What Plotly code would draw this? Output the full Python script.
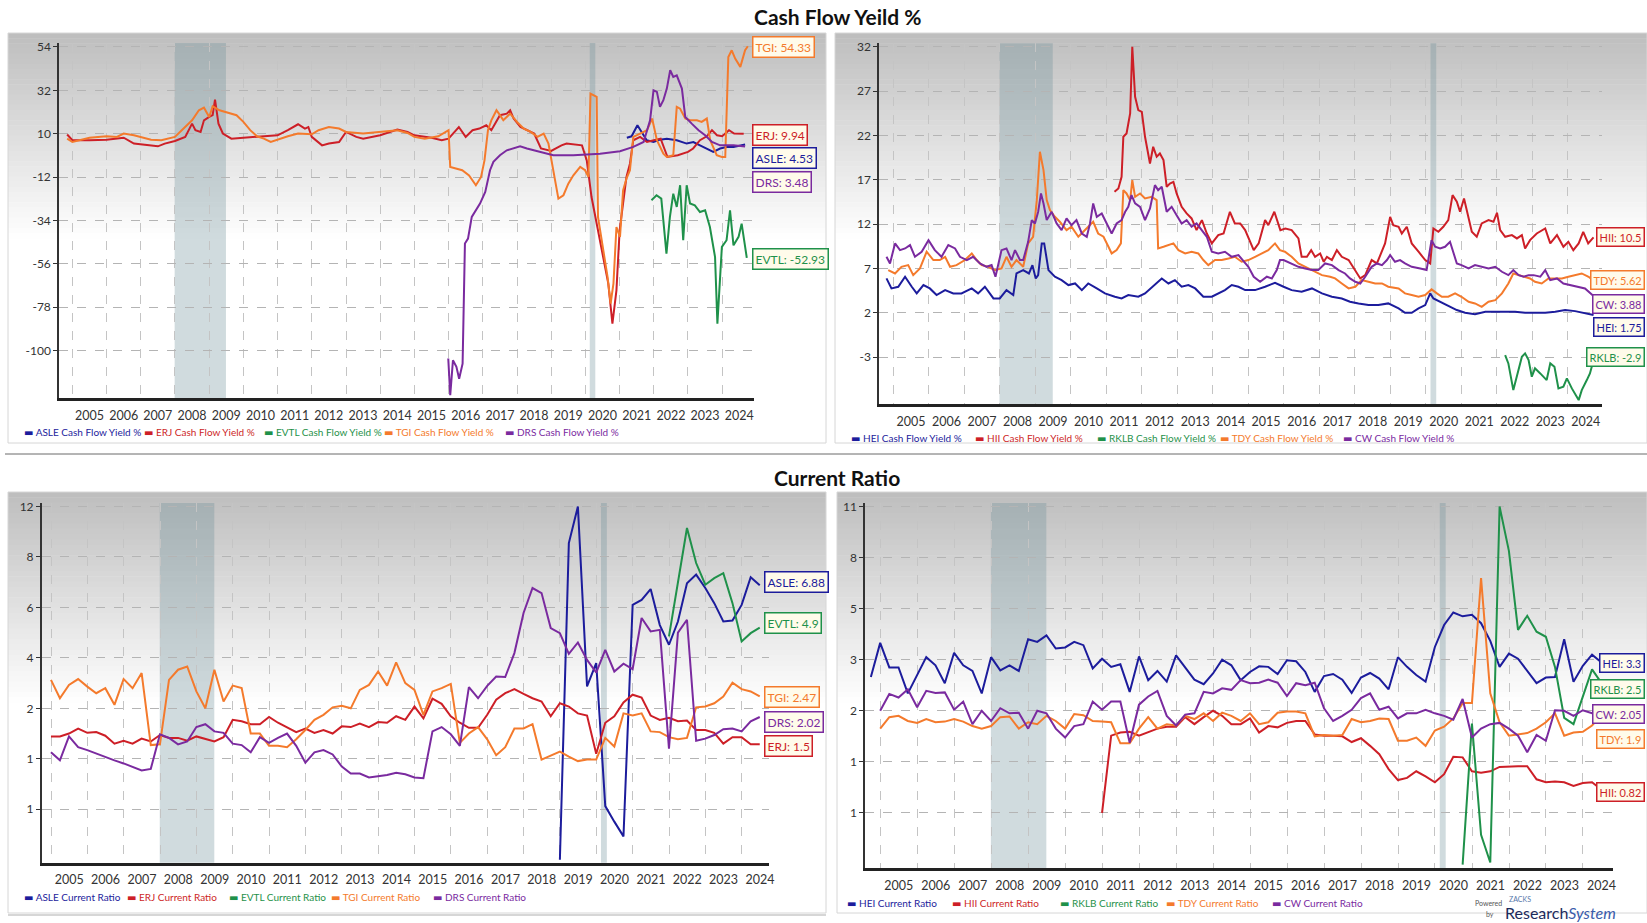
import numpy as np
import pandas as pd
import plotly.graph_objects as go

W, H = 1647, 923
FONT = "Lato, DejaVu Sans, sans-serif"
BLUE, RED, GREEN, ORANGE, PURPLE = "#1c1c9c", "#cd1f27", "#1f914a", "#f47a2c", "#7a2a9f"

# ---------------- Cash Flow Yield % : ASLE / ERJ / EVTL / TGI / DRS ----------------
cfy_erj_yr = [2004.85, 2005.0, 2005.5, 2006.0, 2006.5, 2006.8, 2007.5, 2007.7, 2008.0, 2008.3,
              2008.5, 2008.6, 2008.75, 2008.85, 2009.0, 2009.1, 2009.17, 2009.27, 2009.4, 2009.65,
              2010.0, 2010.5, 2011.0, 2011.3, 2011.6, 2011.8, 2011.9, 2012.0, 2012.3, 2012.5,
              2012.8, 2013.0, 2013.3, 2013.5, 2014.0, 2014.5, 2014.8, 2015.0, 2015.5, 2015.8,
              2016.0, 2016.3, 2016.5, 2016.7, 2016.9, 2017.1, 2017.25, 2017.5, 2017.7, 2017.8,
              2017.9, 2018.1, 2018.5, 2018.7, 2019.0, 2019.3, 2019.45, 2019.9, 2020.04, 2020.18,
              2020.33, 2020.52, 2020.67, 2020.79, 2020.91, 2021.0, 2021.1, 2021.2, 2021.3, 2021.4,
              2021.6, 2021.8, 2022.0, 2022.2, 2022.4, 2022.7, 2023.0, 2023.15, 2023.35, 2023.55,
              2023.7, 2023.85, 2024.0, 2024.2, 2024.35, 2024.63]
cfy_erj = [9.6, 6.7, 6.7, 7.0, 8.0, 5.0, 3.6, 5.0, 6.3, 8.4,
           15.1, 11.8, 10.9, 16.8, 18.5, 19.4, 27.3, 15.1, 10.1, 7.5,
           8.0, 8.7, 9.2, 11.8, 14.8, 12.6, 13.4, 8.4, 4.1, 5.0,
           5.8, 10.9, 8.4, 7.5, 9.2, 12.1, 10.9, 9.2, 8.0, 6.7,
           7.5, 13.4, 8.4, 11.8, 12.6, 14.3, 11.8, 19.4, 20.2, 21.9,
           17.7, 13.4, 10.1, 2.5, 1.3, 4.1, 5.0, 4.1, -3.5, -22.1,
           -35.6, -52.5, -66.0, -86.3, -69.4, -39.0, -25.4, -11.9, -5.2, 6.7,
           8.4, 5.8, 6.7, 7.5, -1.8, -0.9, 0.8, 2.5, 6.7, 8.7,
           11.8, 9.2, 8.7, 11.8, 10.1, 9.94]

cfy_tgi_yr = [2004.85, 2005.0, 2005.5, 2006.0, 2006.3, 2006.5, 2006.8, 2007.0, 2007.3, 2007.6,
              2008.0, 2008.2, 2008.5, 2008.7, 2008.85, 2009.0, 2009.1, 2009.3, 2009.5, 2009.8,
              2010.0, 2010.2, 2010.4, 2010.6, 2010.8, 2011.0, 2011.3, 2011.6, 2012.0, 2012.2,
              2012.5, 2012.8, 2013.0, 2013.5, 2014.0, 2014.5, 2014.8, 2015.0, 2015.3, 2015.7,
              2016.0, 2016.05, 2016.4, 2016.6, 2016.8, 2016.95, 2017.05, 2017.15, 2017.25, 2017.4,
              2017.5, 2017.6, 2017.8, 2018.0, 2018.2, 2018.4, 2018.6, 2018.78, 2018.92, 2019.06,
              2019.21, 2019.36, 2019.5, 2019.65, 2019.85, 2019.99, 2020.09, 2020.15, 2020.33, 2020.37,
              2020.56, 2020.65, 2020.74, 2020.82, 2020.91, 2021.01, 2021.1, 2021.2, 2021.3, 2021.4,
              2021.6, 2021.8, 2021.95, 2022.09, 2022.28, 2022.38, 2022.57, 2022.67, 2022.77, 2022.92,
              2023.06, 2023.26, 2023.4, 2023.55, 2023.65, 2023.84, 2023.99, 2024.09, 2024.18, 2024.28,
              2024.38, 2024.53, 2024.67, 2024.75]
cfy_tgi = [7.5, 5.8, 8.0, 8.7, 8.4, 10.1, 9.2, 8.4, 7.0, 6.7,
           8.4, 11.8, 16.8, 21.9, 23.2, 18.5, 23.9, 21.9, 21.0, 19.4,
           16.0, 11.8, 8.7, 7.5, 5.8, 7.0, 8.7, 10.1, 9.7, 11.8,
           13.4, 12.6, 10.9, 10.1, 10.9, 11.8, 10.4, 8.4, 7.5, 8.7,
           11.8, -6.8, -8.5, -11.1, -16.1, -11.9, -3.5, 11.8, 16.8, 21.9,
           19.4, 16.8, 20.2, 16.0, 12.6, 10.9, 8.4, 10.1, 5.0, -8.5,
           -22.9, -21.2, -15.3, -11.1, -6.8, -8.5, -11.9, 30.3, 28.7, -32.2,
           -52.5, -62.6, -76.1, -66.0, -37.3, -42.3, -18.7, -12.8, -8.5, 8.4,
           10.1, 11.8, 17.7, 6.7, -0.1, -1.8, -0.9, 23.6, 22.7, 17.7,
           16.8, 16.8, 16.0, 17.7, 6.7, -0.9, -1.8, -1.8, 48.9, 52.3,
           48.1, 43.9, 52.3, 54.33]

cfy_drs_yr = [2015.99, 2016.05, 2016.13, 2016.23, 2016.31, 2016.41, 2016.48, 2016.57, 2016.68, 2016.77,
              2016.92, 2017.07, 2017.21, 2017.31, 2017.5, 2017.7, 2017.9, 2018.09, 2018.29, 2018.68,
              2019.06, 2019.65, 2020.43, 2021.01, 2021.4, 2021.7, 2021.89, 2021.99, 2022.09, 2022.18,
              2022.28, 2022.38, 2022.48, 2022.57, 2022.67, 2022.82, 2022.92, 2023.11, 2023.31, 2023.5,
              2023.7, 2023.94, 2024.33, 2024.67]
cfy_drs = [-104.0, -122.6, -104.9, -108.2, -114.2, -106.6, -45.7, -43.2, -32.2, -29.7,
           -25.4, -19.5, -8.5, -4.3, -0.9, 1.6, 2.5, 3.6, 2.5, 0.8,
           -0.9, -0.9, -0.1, 1.1, 3.3, 5.8, 16.8, 32.0, 31.2, 23.6,
           27.0, 32.9, 42.2, 38.8, 39.6, 32.9, 18.5, 15.1, 11.8, 9.2,
           5.8, 4.1, 4.1, 3.48]

cfy_asle_yr = [2021.21, 2021.35, 2021.52, 2021.65, 2021.79, 2021.99, 2022.18, 2022.38, 2022.67, 2022.96,
               2023.16, 2023.35, 2023.55, 2023.74, 2023.94, 2024.13, 2024.33, 2024.67]
cfy_asle = [8.0, 8.7, 14.3, 10.9, 6.7, 5.8, 7.0, 7.5, 6.7, 5.0,
            5.8, 4.1, 2.5, 0.8, 2.5, 3.3, 3.3, 4.53]

cfy_evtl_yr = [2021.93, 2022.08, 2022.22, 2022.37, 2022.47, 2022.57, 2022.67, 2022.77, 2022.86, 2022.96,
               2023.06, 2023.2, 2023.35, 2023.5, 2023.64, 2023.79, 2023.86, 2023.99, 2024.13, 2024.23,
               2024.33, 2024.48, 2024.57, 2024.72]
cfy_evtl = [-23.7, -21.2, -22.9, -50.8, -32.2, -20.4, -27.1, -16.1, -44.0, -16.1,
            -25.4, -26.3, -29.7, -28.8, -37.3, -52.5, -86.3, -47.4, -44.0, -28.8,
            -46.6, -42.3, -35.6, -52.93]

# ---------------- Cash Flow Yield % : HEI / HII / RKLB / TDY / CW ----------------
cfy_hei_yr = [2004.81, 2004.95, 2005.14, 2005.33, 2005.52, 2005.66, 2005.85, 2006.03, 2006.22, 2006.46,
              2006.69, 2006.92, 2007.21, 2007.39, 2007.58, 2007.82, 2008.0, 2008.19, 2008.38, 2008.47,
              2008.66, 2008.82, 2008.92, 2009.01, 2009.08, 2009.18, 2009.25, 2009.37, 2009.55, 2009.74,
              2009.93, 2010.12, 2010.31, 2010.49, 2010.73, 2010.96, 2011.24, 2011.43, 2011.62, 2011.9,
              2012.09, 2012.37, 2012.56, 2012.75, 2012.93, 2013.12, 2013.31, 2013.5, 2013.73, 2013.97,
              2014.15, 2014.34, 2014.53, 2014.72, 2014.91, 2015.19, 2015.47, 2015.75, 2015.99, 2016.22,
              2016.5, 2016.79, 2017.07, 2017.35, 2017.63, 2017.86, 2018.1, 2018.38, 2018.66, 2018.94,
              2019.23, 2019.41, 2019.6, 2019.79, 2019.98, 2020.12, 2020.21, 2020.4, 2020.63, 2020.87,
              2021.1, 2021.38, 2021.67, 2021.95, 2022.23, 2022.51, 2022.79, 2023.07, 2023.36, 2023.64,
              2023.92, 2024.2, 2024.48, 2024.72]
cfy_hei = [5.87, 4.74, 4.93, 6.06, 4.93, 4.18, 5.12, 4.74, 3.99, 4.55,
           4.18, 4.18, 4.74, 4.18, 4.93, 3.61, 3.61, 4.55, 3.99, 6.43,
           6.81, 6.43, 7.37, 5.87, 6.24, 9.82, 9.82, 6.81, 6.06, 5.68,
           5.12, 5.3, 4.55, 5.3, 4.74, 4.18, 3.8, 3.61, 3.99, 3.8,
           4.18, 5.12, 5.87, 5.3, 5.68, 4.93, 5.12, 4.74, 3.8, 3.8,
           4.18, 4.55, 5.12, 4.93, 4.55, 4.55, 4.93, 5.38, 4.93, 4.55,
           4.37, 4.74, 4.18, 3.8, 3.61, 3.24, 3.05, 2.86, 2.86, 3.05,
           2.48, 1.99, 1.99, 2.48, 2.86, 4.18, 3.61, 3.24, 2.86, 2.3,
           1.99, 1.84, 2.11, 2.11, 2.11, 2.11, 1.99, 1.99, 1.99, 2.11,
           2.3, 2.18, 1.92, 1.75]

cfy_hii_yr = [2011.23, 2011.34, 2011.43, 2011.48, 2011.57, 2011.67, 2011.73, 2011.81, 2011.9, 2012.0,
              2012.09, 2012.23, 2012.32, 2012.42, 2012.51, 2012.61, 2012.7, 2012.79, 2012.89, 2012.98,
              2013.12, 2013.26, 2013.4, 2013.54, 2013.69, 2013.83, 2013.97, 2014.15, 2014.3, 2014.48,
              2014.62, 2014.77, 2014.91, 2015.15, 2015.29, 2015.47, 2015.56, 2015.73, 2015.9, 2016.04,
              2016.22, 2016.41, 2016.5, 2016.65, 2016.77, 2016.88, 2017.02, 2017.12, 2017.21, 2017.35,
              2017.49, 2017.63, 2017.82, 2018.01, 2018.15, 2018.29, 2018.47, 2018.62, 2018.76, 2018.85,
              2018.99, 2019.08, 2019.23, 2019.32, 2019.46, 2019.6, 2019.79, 2019.98, 2020.12, 2020.21,
              2020.35, 2020.49, 2020.63, 2020.75, 2020.87, 2020.96, 2021.07, 2021.2, 2021.29, 2021.43,
              2021.57, 2021.76, 2021.9, 2022.0, 2022.09, 2022.23, 2022.42, 2022.56, 2022.7, 2022.79,
              2022.93, 2023.12, 2023.36, 2023.5, 2023.69, 2023.87, 2024.01, 2024.15, 2024.3, 2024.43,
              2024.57, 2024.72]
cfy_hii = [15.64, 16.02, 17.34, 21.85, 22.22, 24.48, 32.0, 26.36, 24.86, 24.67,
           21.85, 18.84, 20.72, 19.6, 19.97, 19.22, 16.21, 16.58, 16.77, 15.46,
           13.95, 13.2, 12.64, 11.32, 12.45, 10.94, 9.82, 10.76, 10.94, 13.39,
           12.07, 12.07, 11.32, 9.06, 9.82, 12.45, 11.88, 13.39, 11.32, 11.51,
           11.32, 10.38, 8.31, 8.31, 9.06, 8.31, 8.69, 7.75, 8.31, 7.94,
           9.06, 8.31, 7.94, 6.81, 5.87, 6.24, 7.94, 7.56, 9.06, 9.82,
           12.82, 11.88, 11.7, 10.94, 11.7, 9.82, 8.88, 7.94, 7.56, 11.51,
           11.13, 11.7, 12.45, 15.27, 14.52, 13.39, 14.89, 12.82, 11.13, 10.57,
           12.07, 12.45, 12.26, 13.28, 11.32, 10.57, 10.76, 10.38, 10.76, 9.25,
           10.19, 10.94, 11.51, 9.82, 10.76, 9.44, 10.0, 9.06, 9.82, 11.13,
           9.82, 10.5]

cfy_tdy_yr = [2004.86, 2005.05, 2005.23, 2005.42, 2005.56, 2005.75, 2005.94, 2006.13, 2006.31, 2006.46,
              2006.6, 2006.78, 2007.02, 2007.21, 2007.35, 2007.49, 2007.68, 2007.86, 2008.05, 2008.19,
              2008.33, 2008.47, 2008.57, 2008.66, 2008.8, 2008.94, 2009.04, 2009.13, 2009.23, 2009.32,
              2009.41, 2009.55, 2009.69, 2009.88, 2010.02, 2010.21, 2010.35, 2010.49, 2010.63, 2010.77,
              2010.92, 2011.06, 2011.15, 2011.29, 2011.41, 2011.48, 2011.57, 2011.67, 2011.73, 2011.81,
              2011.95, 2012.09, 2012.28, 2012.42, 2012.46, 2012.61, 2012.75, 2012.89, 2013.03, 2013.22,
              2013.4, 2013.59, 2013.73, 2013.87, 2014.06, 2014.25, 2014.44, 2014.62, 2014.81,
              2015.0, 2015.19, 2015.38, 2015.56, 2015.75, 2015.89, 2016.03, 2016.22, 2016.41, 2016.6,
              2016.83, 2017.07, 2017.3, 2017.44, 2017.63, 2017.82, 2018.01, 2018.19, 2018.38, 2018.57,
              2018.76, 2018.94, 2019.23, 2019.41, 2019.6, 2019.79, 2019.98, 2020.16, 2020.31, 2020.45,
              2020.63, 2020.82, 2021.0, 2021.2, 2021.38, 2021.57, 2021.76, 2021.95, 2022.14, 2022.32,
              2022.46, 2022.61, 2022.79, 2022.93, 2023.07, 2023.26, 2023.45, 2023.64, 2023.83, 2024.01,
              2024.2, 2024.39, 2024.58, 2024.72]
cfy_tdy = [6.81, 6.43, 7.18, 7.37, 6.24, 6.99, 8.88, 7.94, 7.94, 8.31,
           7.18, 7.37, 7.94, 8.69, 7.94, 7.37, 7.18, 6.81, 6.99, 8.31,
           7.18, 7.94, 7.56, 7.18, 9.82, 10.57, 14.7, 20.16, 18.09, 14.7,
           13.58, 12.82, 12.26, 11.32, 11.7, 10.57, 11.13, 11.7, 12.26, 10.94,
           10.57, 9.44, 8.69, 9.06, 9.82, 15.83, 15.46, 14.7, 16.96, 15.08,
           15.46, 14.89, 15.08, 14.7, 9.25, 9.44, 9.63, 9.82, 9.06, 8.69,
           8.88, 8.69, 7.94, 7.37, 7.94, 7.94, 8.12, 8.31, 7.75,
           7.94, 8.31, 8.69, 9.06, 9.82, 9.06, 8.88, 8.31, 7.56, 7.18,
           6.81, 6.24, 6.06, 5.87, 5.3, 4.74, 4.93, 5.68, 5.49, 5.3,
           5.3, 4.93, 4.74, 4.18, 3.99, 3.8, 3.99, 4.63, 4.18, 3.8,
           3.8, 4.18, 3.8, 3.24, 3.05, 2.67, 3.24, 3.42, 4.18, 5.3,
           6.43, 6.24, 6.06, 5.87, 5.49, 5.3, 5.87, 5.87, 5.87, 6.06,
           6.24, 6.43, 6.06, 5.62]

cfy_cw_yr = [2004.81, 2004.91, 2005.05, 2005.19, 2005.33, 2005.47, 2005.61, 2005.8, 2005.99, 2006.17,
             2006.36, 2006.55, 2006.74, 2006.88, 2007.07, 2007.25, 2007.44, 2007.63, 2007.77, 2007.88,
             2008.05, 2008.19, 2008.33, 2008.43, 2008.57, 2008.66, 2008.8, 2008.9, 2008.99, 2009.08,
             2009.16, 2009.23, 2009.32, 2009.46, 2009.6, 2009.74, 2009.88, 2010.02, 2010.16, 2010.31,
             2010.45, 2010.54, 2010.63, 2010.73, 2010.87, 2011.01, 2011.15, 2011.29, 2011.43, 2011.53,
             2011.62, 2011.71, 2011.81, 2011.95, 2012.09, 2012.23, 2012.37, 2012.46, 2012.56, 2012.7,
             2012.84, 2012.98, 2013.12, 2013.26, 2013.4, 2013.54, 2013.69, 2013.83, 2013.97, 2014.15,
             2014.34, 2014.53, 2014.72, 2014.91,
             2015.0, 2015.15, 2015.33, 2015.52, 2015.66, 2015.8, 2015.89, 2015.99, 2016.22, 2016.41,
             2016.6, 2016.79, 2016.97, 2017.16, 2017.35, 2017.54, 2017.72, 2017.86, 2018.01, 2018.15,
             2018.29, 2018.47, 2018.62, 2018.76, 2018.9, 2018.99, 2019.13, 2019.27, 2019.41, 2019.6,
             2019.84, 2020.02, 2020.16, 2020.26, 2020.4, 2020.54, 2020.68, 2020.77, 2020.87, 2021.0,
             2021.2, 2021.38, 2021.57, 2021.76, 2021.95, 2022.14, 2022.32, 2022.46, 2022.61, 2022.75,
             2022.89, 2023.03, 2023.22, 2023.36, 2023.5, 2023.69, 2023.87, 2024.06, 2024.3, 2024.48,
             2024.72]
cfy_cw = [8.31, 7.56, 9.82, 9.06, 9.25, 9.63, 8.31, 8.88, 10.19, 9.06,
          8.31, 9.63, 9.25, 8.31, 7.94, 8.31, 7.56, 7.18, 7.37, 6.06,
          9.06, 9.25, 7.94, 9.06, 7.94, 7.94, 10.0, 12.45, 12.07, 13.39,
          15.46, 14.33, 12.45, 13.39, 12.07, 11.32, 12.64, 11.88, 12.45, 10.94,
          10.57, 12.07, 14.33, 12.82, 13.2, 12.07, 10.94, 12.07, 12.45, 13.39,
          13.95, 15.27, 14.33, 13.95, 12.45, 13.76, 16.4, 15.83, 16.21, 13.39,
          13.95, 13.01, 12.07, 12.45, 11.7, 12.07, 11.32, 10.57, 8.88, 8.69,
          8.88, 8.31, 8.5, 7.56,
          7.18, 6.06, 5.49, 6.06, 5.87, 6.81, 7.94, 7.94, 7.56, 7.18,
          6.99, 6.81, 6.81, 7.56, 7.37, 6.81, 6.43, 5.87, 5.49, 5.3,
          6.06, 7.18, 7.56, 7.37, 7.94, 8.5, 7.75, 7.94, 7.56, 7.18,
          6.99, 6.81, 10.19, 9.44, 9.25, 9.44, 10.0, 8.88, 7.56, 7.37,
          6.99, 7.37, 7.18, 6.99, 7.18, 6.62, 6.24, 6.81, 6.24, 6.06,
          6.24, 6.24, 6.06, 6.81, 5.68, 5.87, 5.3, 5.12, 4.93, 4.74,
          3.88]

cfy_rklb_yr = [2022.23, 2022.32, 2022.46, 2022.58, 2022.7, 2022.79, 2022.89, 2022.98, 2023.07, 2023.22,
               2023.4, 2023.5, 2023.62, 2023.73, 2023.87, 2023.97, 2024.11, 2024.3, 2024.39, 2024.53,
               2024.62, 2024.75]
cfy_rklb = [-2.78, -3.72, -6.73, -4.85, -2.97, -2.59, -3.34, -5.22, -4.28, -4.85,
            -5.6, -3.72, -4.1, -6.54, -6.35, -5.41, -6.54, -7.86, -6.73, -5.6,
            -4.85, -2.9]

# ---------------- Current Ratio (quarterly) ----------------
cr_tgi = [3.13, 2.4, 2.93, 3.16, 2.86, 2.6, 2.8, 2.14, 3.16, 2.8,
          3.4, 1.49, 1.5, 3.13, 3.53, 3.66, 2.67, 2.0, 3.53, 2.27,
          2.9, 2.8, 1.65, 1.65, 1.48, 1.48, 1.46, 1.57, 1.7, 1.84,
          1.91, 2.04, 2.1, 2.0, 2.73, 2.93, 3.46, 2.9, 3.82, 3.0,
          2.73, 1.91, 2.67, 2.8, 2.97, 1.52, 1.65, 1.74, 1.57, 1.35,
          1.46, 1.72, 1.72, 1.78, 1.29, 1.35, 1.4, 1.33, 1.27, 1.29,
          1.29, 1.59, 1.47, 1.93, 1.9, 1.93, 1.68, 1.67, 1.6, 1.57,
          1.59, 2.04, 2.07, 2.2, 2.47, 3.02, 2.76, 2.67, 2.47]
cr_erj = [1.61, 1.61, 1.65, 1.72, 1.66, 1.67, 1.62, 1.51, 1.55, 1.51,
          1.58, 1.54, 1.63, 1.59, 1.59, 1.55, 1.61, 1.57, 1.54, 1.6,
          1.84, 1.82, 1.78, 1.78, 1.88, 1.8, 1.74, 1.67, 1.72, 1.66,
          1.7, 1.65, 1.75, 1.74, 1.79, 1.74, 1.81, 1.8, 1.89, 1.84,
          2.07, 1.86, 2.38, 2.18, 1.89, 1.8, 1.73, 1.73, 1.91, 2.34,
          2.6, 2.76, 2.57, 2.4, 2.27, 1.89, 2.2, 2.07, 1.93, 1.9,
          1.37, 1.8, 1.89, 2.23, 2.54, 2.43, 1.9, 1.84, 1.87, 1.82,
          1.83, 1.7, 1.7, 1.66, 1.51, 1.6, 1.6, 1.5, 1.5]
cr_drs = [1.39, 1.28, 1.61, 1.46, 1.42, 1.37, 1.33, 1.28, 1.24, 1.19,
          1.15, 1.17, 1.64, 1.59, 1.5, 1.54, 1.74, 1.78, 1.68, 1.66,
          1.51, 1.49, 1.39, 1.6, 1.52, 1.59, 1.65, 1.48, 1.25, 1.39,
          1.42, 1.36, 1.2, 1.11, 1.11, 1.06, 1.08, 1.09, 1.12, 1.1,
          1.06, 1.05, 1.68, 1.74, 1.64, 1.48, 2.84, 2.4, 2.89, 3.26,
          3.24, 4.19, 5.78, 6.77, 6.57, 5.18, 4.98, 4.16, 4.61, 3.92,
          3.42, 4.32, 3.46, 3.77, 3.55, 5.58, 5.05, 5.11, 1.44, 5.0,
          5.51, 1.55, 1.58, 1.63, 1.71, 1.72, 1.68, 1.82, 1.88]
cr_asle = [0.0, 9.1, 12.0, 2.87, 3.79, 0.69, 0.49, 0.3, 6.1, 6.3,
           6.73, 5.3, 4.52, 5.44, 6.96, 7.3, 6.77, 6.17, 5.44, 5.48,
           6.1, 7.2, 6.88]
cr_evtl = [4.85, 7.0, 10.3, 7.76, 6.9, 7.16, 7.36, 6.17, 4.65, 4.98, 5.2]

cr_hei = [2.66, 3.66, 2.85, 2.85, 2.34, 2.7, 3.1, 2.89, 2.54, 3.27,
          2.89, 2.78, 2.34, 3.1, 2.79, 2.89, 2.78, 3.8, 3.7, 3.95,
          3.44, 3.48, 3.7, 3.57, 2.83, 3.04, 2.86, 2.91, 2.37, 3.13,
          2.6, 2.78, 2.57, 3.17, 2.86, 2.61, 2.52, 2.73, 3.0,
          2.89, 2.6, 2.76, 2.87, 2.86, 2.72, 2.99, 2.97, 2.76, 2.37,
          2.68, 2.72, 2.61, 2.35, 2.65, 2.74, 2.63, 2.42, 3.1, 2.86,
          2.7, 2.57, 3.5, 4.36, 4.85, 4.7, 4.76, 4.43, 3.74, 2.86,
          3.24, 3.04, 2.79, 2.54, 2.65, 2.66, 3.8, 2.57, 2.88, 3.2,
          2.95]
cr_cw = [2.0, 2.33, 2.26, 2.42, 2.07, 2.39, 2.35, 2.36, 2.02, 2.18,
         1.79, 2.0, 1.84, 2.05, 1.96, 1.97, 1.72, 2.0, 1.96, 1.72,
         1.58, 1.76, 1.79, 2.18, 2.02, 2.18, 2.18, 1.5, 2.12, 2.28,
         2.39, 1.92, 1.77, 1.94, 1.96, 2.37, 2.34, 2.44, 2.41,
         2.6, 2.54, 2.55, 2.61, 2.55, 2.29, 2.54, 2.5, 2.55, 2.05,
         1.84, 1.92, 2.02, 2.25, 2.34, 2.02, 2.08, 1.88, 1.96, 1.96,
         2.02, 1.96, 1.92, 1.86, 2.23, 1.58, 1.72, 1.79, 1.81, 1.72,
         1.61, 1.35, 1.62, 1.53, 2.01, 2.0, 1.92, 2.01, 1.96, 1.97]
cr_tdy = [1.72, 1.9, 1.92, 1.84, 1.81, 1.87, 1.82, 1.83, 1.87, 1.83,
          1.76, 1.72, 1.76, 1.9, 1.91, 1.72, 1.82, 1.79, 1.92, 1.84,
          1.72, 1.95, 1.93, 1.84, 1.83, 1.82, 1.49, 1.49, 1.72, 1.9,
          1.72, 1.79, 1.77, 1.92, 1.87, 1.96, 1.84, 1.97, 1.92,
          1.84, 1.96, 1.79, 1.82, 1.97, 1.99, 1.99, 1.96, 1.6, 1.62,
          1.61, 1.62, 1.87, 1.82, 1.84, 1.88, 1.87, 1.53, 1.53, 1.58,
          1.45, 1.69, 1.75, 1.88, 2.15, 2.15, 6.8, 2.34, 1.82, 1.61,
          1.63, 1.65, 1.72, 1.82, 1.96, 1.61, 1.66, 1.67, 1.77, 1.93]
cr_hii = [0.5, 1.61, 1.66, 1.67, 1.61, 1.67, 1.72, 1.75, 1.75, 1.9,
          1.79, 1.9, 2.0, 1.92, 1.79,
          1.79, 1.88, 1.66, 1.76, 1.74, 1.81, 1.84, 1.84, 1.63, 1.61,
          1.61, 1.6, 1.51, 1.57, 1.45, 1.32, 1.1, 0.95, 0.98, 1.07,
          1.0, 0.92, 1.03, 1.28, 1.27, 1.07, 1.05, 1.07, 1.13, 1.14,
          1.14, 1.14, 0.96, 0.92, 0.93, 0.92, 0.87, 0.91, 0.92, 0.82]
cr_rklb = [0.03, 1.8, 0.3, 0.05, 11.0, 8.4, 4.17, 4.72, 4.1, 3.9,
           2.86, 1.89, 1.79, 2.28, 2.81, 2.55]

# axis ticks of the two Current Ratio charts (non-linear scale: one step per tick)
cr_left_ticks = [0, 0.65, 1.3, 2, 4, 6, 8, 12]
cr_left_labels = ["1", "1", "2", "4", "6", "8", "12"]
cr_right_ticks = [0, 0.5, 1.2, 2, 3, 5, 8, 11]
cr_right_labels = ["1", "1", "2", "3", "5", "8", "11"]
cfy_left_ticks = [-100, -78, -56, -34, -12, 10, 32, 54]
cfy_right_ticks = [-3, 2, 7, 12, 17, 22, 27, 32]

left_names = ["ASLE", "ERJ", "EVTL", "TGI", "DRS"]
right_names = ["HEI", "HII", "RKLB", "TDY", "CW"]
series_colors = [BLUE, RED, GREEN, ORANGE, PURPLE]


def px(x):
    return x / W


def py(y):
    return 1 - y / H


def dec_dates(years):
    return [pd.Timestamp(int(y), 1, 1) + pd.Timedelta(days=round((y - int(y)) * 365.25)) for y in years]


def qdates(first, n):
    return pd.period_range(first, periods=n, freq="Q").to_timestamp(how="end").normalize()


def scale_left(v):
    return np.interp(v, cr_left_ticks, [-1, 0, 1, 2, 3, 4, 5, 6])


def scale_right(v):
    return np.interp(v, cr_right_ticks, [-1.08, 0, 1, 2, 3, 4, 5, 6])


fig = go.Figure()


def add_line(x, y, color, name, xa, ya):
    fig.add_trace(go.Scatter(x=x, y=y, mode="lines", name=name, showlegend=False,
                             line=dict(color=color, width=2), xaxis=xa, yaxis=ya, hoverinfo="skip"))


# top-left
add_line(dec_dates(cfy_asle_yr), cfy_asle, BLUE, "ASLE Cash Flow Yield %", "x", "y")
add_line(dec_dates(cfy_erj_yr), cfy_erj, RED, "ERJ Cash Flow Yield %", "x", "y")
add_line(dec_dates(cfy_evtl_yr), cfy_evtl, GREEN, "EVTL Cash Flow Yield %", "x", "y")
add_line(dec_dates(cfy_tgi_yr), cfy_tgi, ORANGE, "TGI Cash Flow Yield %", "x", "y")
add_line(dec_dates(cfy_drs_yr), cfy_drs, PURPLE, "DRS Cash Flow Yield %", "x", "y")
# top-right
add_line(dec_dates(cfy_hei_yr), cfy_hei, BLUE, "HEI Cash Flow Yield %", "x2", "y3")
add_line(dec_dates(cfy_hii_yr), cfy_hii, RED, "HII Cash Flow Yield %", "x2", "y3")
add_line(dec_dates(cfy_rklb_yr), cfy_rklb, GREEN, "RKLB Cash Flow Yield %", "x2", "y3")
add_line(dec_dates(cfy_tdy_yr), cfy_tdy, ORANGE, "TDY Cash Flow Yield %", "x2", "y3")
add_line(dec_dates(cfy_cw_yr), cfy_cw, PURPLE, "CW Cash Flow Yield %", "x2", "y3")
# bottom-left
add_line(qdates("2018Q4", len(cr_asle)), scale_left(cr_asle), BLUE, "ASLE Current Ratio", "x3", "y5")
add_line(qdates("2004Q4", len(cr_erj)), scale_left(cr_erj), RED, "ERJ Current Ratio", "x3", "y5")
add_line(qdates("2021Q4", len(cr_evtl)), scale_left(cr_evtl), GREEN, "EVTL Current Ratio", "x3", "y5")
add_line(qdates("2004Q4", len(cr_tgi)), scale_left(cr_tgi), ORANGE, "TGI Current Ratio", "x3", "y5")
add_line(qdates("2004Q4", len(cr_drs)), scale_left(cr_drs), PURPLE, "DRS Current Ratio", "x3", "y5")
# bottom-right
add_line(qdates("2004Q3", len(cr_hei)), scale_right(cr_hei), BLUE, "HEI Current Ratio", "x4", "y7")
add_line(qdates("2010Q4", len(cr_hii)), scale_right(cr_hii), RED, "HII Current Ratio", "x4", "y7")
add_line(qdates("2020Q3", len(cr_rklb)), scale_right(cr_rklb), GREEN, "RKLB Current Ratio", "x4", "y7")
add_line(qdates("2004Q4", len(cr_tdy)), scale_right(cr_tdy), ORANGE, "TDY Current Ratio", "x4", "y7")
add_line(qdates("2004Q4", len(cr_cw)), scale_right(cr_cw), PURPLE, "CW Current Ratio", "x4", "y7")

TICKFONT = dict(family=FONT, size=12, color="#333")
GRID = "#c4c4c4"


def x_axis(x0, x1, yr0, yr1, anchor):
    return dict(domain=[px(x0), px(x1)], range=dec_dates([yr0, yr1]), type="date", anchor=anchor,
                dtick="M12", tick0="2005-01-01", tickformat="%Y", ticklabelmode="period",
                showgrid=True, gridcolor=GRID, griddash="dash", gridwidth=1,
                showline=True, linecolor="#222", linewidth=2.5, ticks="outside", ticklen=4,
                tickcolor="rgba(0,0,0,0)", tickfont=dict(family=FONT, size=12.5, color="#333"),
                zeroline=False, automargin=False, fixedrange=True)


def y_axis(y0, y1, rng, tickvals, ticktext, anchor, side="left", overlay=None):
    d = dict(range=rng, tickmode="array", tickvals=tickvals, ticktext=ticktext, anchor=anchor, side=side,
             showline=True, linecolor="#333", linewidth=1.5, ticks="outside", ticklen=4, tickcolor="#333",
             tickfont=TICKFONT, zeroline=False, automargin=False, fixedrange=True)
    if overlay:
        d.update(overlaying=overlay, showgrid=False)
    else:
        d.update(domain=[py(y1), py(y0)], showgrid=True, gridcolor="#b4b4b4", griddash="dash", gridwidth=1)
    return d


cfy_l_txt = [str(v) for v in cfy_left_ticks]
cfy_r_txt = [str(v) for v in cfy_right_ticks]
fig.update_layout(
    xaxis=x_axis(59, 754, 2004.61, 2024.93, "y"),
    yaxis=y_axis(43, 398, [-124, 56], cfy_left_ticks, cfy_l_txt, "x"),
    yaxis2=y_axis(43, 398, [-124, 56], cfy_left_ticks, cfy_l_txt, "x", "right", "y"),
    xaxis2=x_axis(879, 1601.7, 2004.60, 2024.95, "y3"),
    yaxis3=y_axis(43.3, 404, [-8.3, 32.4], cfy_right_ticks, cfy_r_txt, "x2"),
    yaxis4=y_axis(43.3, 404, [-8.3, 32.4], cfy_right_ticks, cfy_r_txt, "x2", "right", "y3"),
    xaxis3=x_axis(41.7, 769, 2004.745, 2024.75, "y5"),
    yaxis5=y_axis(503, 862.7, [-1.06, 6.07], list(range(7)), cr_left_labels, "x3"),
    yaxis6=y_axis(503, 862.7, [-1.06, 6.07], list(range(7)), cr_left_labels, "x3", "right", "y5"),
    xaxis4=x_axis(865, 1613.3, 2004.59, 2024.82, "y7"),
    yaxis7=y_axis(503, 868, [-1.08, 6.07], list(range(7)), cr_right_labels, "x4"),
    yaxis8=y_axis(503, 868, [-1.08, 6.07], list(range(7)), cr_right_labels, "x4", "right", "y7"),
)

shapes = []


def panel(x0, x1, y0, y1):
    n = 40
    fade = 0.5 * (y1 - y0)
    for i in range(n):
        a = y0 + fade * i / n
        b = y0 + fade * (i + 1) / n + 0.6
        g = int(190 + (255 - 190) * (i + 0.5) / n)
        shapes.append(dict(type="rect", xref="paper", yref="paper", x0=px(x0), x1=px(x1), y0=py(b), y1=py(a),
                           fillcolor=f"rgb({g},{g},{g})", line_width=0, layer="below"))
    shapes.append(dict(type="rect", xref="paper", yref="paper", x0=px(x0), x1=px(x1), y0=py(y1), y1=py(y0),
                       fillcolor="rgba(0,0,0,0)", line=dict(color="#d6d6d6", width=1), layer="below"))


panel(8, 826, 33, 443)
panel(835, 1647, 33, 443)
panel(8, 826, 492, 913)
panel(837, 1647, 492, 913)

recessions = [(2007.99, 2009.49), (2020.13, 2020.29)]
for xa, ya in [("x", "y"), ("x2", "y3"), ("x3", "y5"), ("x4", "y7")]:
    for r0, r1 in recessions:
        d0, d1 = dec_dates([r0, r1])
        shapes.append(dict(type="rect", xref=xa, yref=f"{ya} domain", x0=d0, x1=d1, y0=0, y1=1,
                           fillcolor="rgba(110,143,152,0.32)", line_width=0, layer="below"))

shapes.append(dict(type="line", xref="paper", yref="paper", x0=px(5), x1=1, y0=py(454), y1=py(454),
                   line=dict(color="#6a6a6a", width=1)))
shapes.append(dict(type="line", xref="paper", yref="paper", x0=px(8), x1=px(826), y0=py(915), y1=py(915),
                   line=dict(color="#c8c8c8", width=1.5)))

annotations = []


def note(text, x, y, size, color, xanchor="center", family=FONT, **kw):
    annotations.append(dict(text=text, x=px(x), y=py(y), xref="paper", yref="paper", showarrow=False,
                            xanchor=xanchor, yanchor="middle", font=dict(family=family, size=size, color=color), **kw))


note("<b>Cash Flow Yeild %</b>", 837, 16, 21, "#111")
note("<b>Current Ratio</b>", 837, 478, 21, "#111")

# legends, drawn as a row of coloured labels under each chart
legend_rows = [
    (432, [22, 142, 262, 382, 503], left_names, " Cash Flow Yield %"),
    (438, [849, 973, 1095, 1218, 1341], right_names, " Cash Flow Yield %"),
    (897, [22, 125, 227, 329, 431], left_names, " Current Ratio"),
    (903, [845, 950, 1058, 1164, 1270], right_names, " Current Ratio"),
]
for ly, xs, names, suffix in legend_rows:
    for lx, nm, c in zip(xs, names, series_colors):
        note(f"▬ {nm}{suffix}", lx, ly, 10, c, xanchor="left")

# end-value tags on the right edge of each chart
tags_left = [
    (752, 47.5, "TGI: 54.33", ORANGE), (752, 135, "ERJ: 9.94", RED), (752, 158, "ASLE: 4.53", BLUE),
    (752, 182, "DRS: 3.48", PURPLE), (752, 259, "EVTL: -52.93", GREEN),
    (764, 582, "ASLE: 6.88", BLUE), (764, 623, "EVTL: 4.9", GREEN), (764, 697, "TGI: 2.47", ORANGE),
    (764, 722, "DRS: 2.02", PURPLE), (764, 746, "ERJ: 1.5", RED),
]
tags_right = [
    (237.5, "HII: 10.5", RED), (280, "TDY: 5.62", ORANGE), (304, "CW: 3.88", PURPLE),
    (327, "HEI: 1.75", BLUE), (357, "RKLB: -2.9", GREEN),
    (663, "HEI: 3.3", BLUE), (689, "RKLB: 2.5", GREEN), (714, "CW: 2.05", PURPLE),
    (739, "TDY: 1.9", ORANGE), (792, "HII: 0.82", RED),
]
for tx, ty, txt, c in tags_left:
    note(txt, tx, ty, 12, c, xanchor="left", bgcolor="#fffbea", bordercolor=c, borderwidth=1.5, borderpad=2)
for ty, txt, c in tags_right:
    note(txt, 1645, ty, 11, c, xanchor="right", bgcolor="#fffbea", bordercolor=c, borderwidth=1.5, borderpad=2)

note("Powered", 1488, 903, 7, "#555")
note("ZACKS", 1520, 899, 7, "#5577aa")
note("by", 1490, 914, 7, "#555")
note("Research<i><span style='color:#3a5cab'>System</span></i>", 1560, 912, 16, "#1c2a5c")

fig.update_layout(
    width=W, height=H, autosize=False,
    margin=dict(l=0, r=0, t=0, b=0),
    paper_bgcolor="white", plot_bgcolor="rgba(0,0,0,0)",
    showlegend=False, hovermode=False,
    shapes=shapes, annotations=annotations,
)

fig.write_html("out.html", config={"displayModeBar": False},
               post_script="document.body.style.margin='0px';document.body.style.overflow='hidden';")
